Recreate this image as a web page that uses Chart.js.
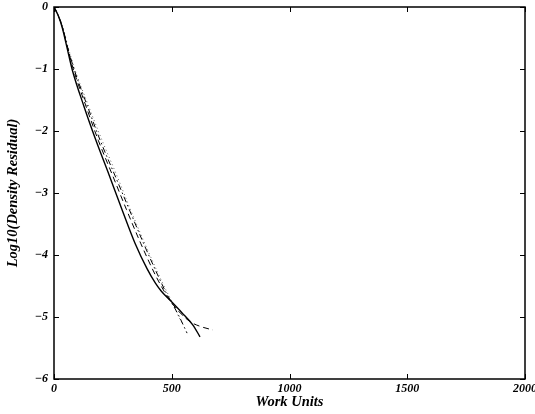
<!DOCTYPE html>
<html>
<head>
<meta charset="utf-8">
<script src="https://cdn.jsdelivr.net/npm/chart.js@4/dist/chart.umd.min.js"></script>
<style>
html,body{margin:0;padding:0;background:#fff;}
#c{display:block;}
</style>
</head>
<body>
<canvas id="c" width="535" height="414"></canvas>
<script>
// X ticks and Y ticks
const xTicks = [0, 500, 1000, 1500, 2000];
const yTicks = [0, -1, -2, -3, -4, -5, -6];

// Series: work units vs log10 density residual
const solidX = [0, 17, 34, 55, 78, 127, 178, 234, 289, 344, 395, 430, 455, 493, 543, 590, 620];
const solidY = [0, -0.13, -0.32, -0.65, -1.02, -1.6, -2.15, -2.71, -3.27, -3.81, -4.22, -4.45, -4.58, -4.73, -4.93, -5.13, -5.32];

const dashedX = [0, 17, 35, 57, 82, 134, 188, 248, 308, 368, 430, 470, 495, 540, 580, 620, 675];
const dashedY = [0, -0.13, -0.32, -0.65, -1.0, -1.58, -2.15, -2.71, -3.27, -3.81, -4.32, -4.60, -4.75, -4.95, -5.08, -5.15, -5.21];

const dashDotX = [0, 17, 36, 58, 85, 140, 196, 258, 320, 380, 440, 475, 497, 530, 565];
const dashDotY = [0, -0.13, -0.32, -0.65, -1.0, -1.58, -2.15, -2.71, -3.27, -3.81, -4.32, -4.60, -4.75, -4.98, -5.26];

const dottedX = [0, 18, 37, 60, 88, 145, 204, 266, 325, 385, 445, 480, 505, 530, 545];
const dottedY = [0, -0.13, -0.32, -0.65, -1.0, -1.58, -2.15, -2.71, -3.27, -3.81, -4.32, -4.60, -4.78, -5.0, -5.1];

const pts = (xs, ys) => xs.map((x, i) => ({x: x, y: ys[i]}));

const FONT = "'Liberation Serif', 'DejaVu Serif', serif";

const framePlugin = {
  id: 'frame',
  afterDraw(chart) {
    const {ctx, chartArea: a, scales: {x, y}} = chart;
    ctx.save();
    ctx.strokeStyle = '#000';
    ctx.lineWidth = 1.5;
    ctx.strokeRect(a.left, a.top, a.right - a.left, a.bottom - a.top);
    ctx.lineWidth = 1;
    const L = 5;
    ctx.beginPath();
    xTicks.forEach(v => {
      const px = Math.round(x.getPixelForValue(v)) + 0.5;
      ctx.moveTo(px, a.bottom); ctx.lineTo(px, a.bottom - L);
      ctx.moveTo(px, a.top); ctx.lineTo(px, a.top + L);
    });
    yTicks.forEach(v => {
      const py = Math.round(y.getPixelForValue(v)) + 0.5;
      ctx.moveTo(a.left, py); ctx.lineTo(a.left + L, py);
      ctx.moveTo(a.right, py); ctx.lineTo(a.right - L, py);
    });
    ctx.stroke();
    ctx.restore();
  }
};

const base = {fill: false, pointRadius: 0, cubicInterpolationMode: 'monotone', borderColor: '#000', showLine: true};

new Chart(document.getElementById('c'), {
  type: 'scatter',
  data: {
    datasets: [
      Object.assign({}, base, {label: 'solid', data: pts(solidX, solidY), borderWidth: 1.4}),
      Object.assign({}, base, {label: 'dashed', data: pts(dashedX, dashedY), borderWidth: 1, borderDash: [6, 4]}),
      Object.assign({}, base, {label: 'dashdot', data: pts(dashDotX, dashDotY), borderWidth: 1, borderDash: [6, 3, 1.5, 3]}),
      Object.assign({}, base, {label: 'dotted', data: pts(dottedX, dottedY), borderWidth: 1, borderDash: [1, 3], borderColor: '#666'})
    ]
  },
  options: {
    responsive: false,
    animation: false,
    devicePixelRatio: 1,
    layout: {padding: {top: 7, right: 10, left: 0, bottom: 0}},
    plugins: {legend: {display: false}, tooltip: {enabled: false}},
    scales: {
      x: {
        type: 'linear', min: 0, max: 2000,
        afterBuildTicks: s => { s.ticks = xTicks.map(v => ({value: v})); },
        afterFit: s => { s.height = 35; s.paddingLeft = 0; s.paddingRight = 0; },
        grid: {display: false, drawTicks: false, tickLength: 0},
        border: {display: false},
        ticks: {color: '#000', padding: 3, maxRotation: 0, autoSkip: false,
                callback: v => String(v),
                font: {family: FONT, size: 12, weight: 'bold', style: 'italic'}},
        title: {display: true, text: 'Work Units', color: '#000', padding: {top: 0, bottom: 3},
                font: {family: FONT, size: 14.5, weight: 'bold', style: 'italic'}}
      },
      y: {
        type: 'linear', min: -6, max: 0,
        afterBuildTicks: s => { s.ticks = yTicks.map(v => ({value: v})); },
        afterFit: s => { s.width = 54; s.paddingTop = 0; s.paddingBottom = 0; },
        grid: {display: false, drawTicks: false, tickLength: 0},
        border: {display: false},
        ticks: {color: '#000', padding: 6, autoSkip: false,
                callback: v => v < 0 ? '\u2212' + Math.abs(v) : String(v),
                font: {family: FONT, size: 12, weight: 'bold', style: 'italic'}},
        title: {display: true, text: 'Log10(Density Residual)', color: '#000', padding: {top: 5, bottom: 0},
                font: {family: FONT, size: 14.5, weight: 'bold', style: 'italic'}}
      }
    }
  },
  plugins: [framePlugin]
});
</script>
</body>
</html>
